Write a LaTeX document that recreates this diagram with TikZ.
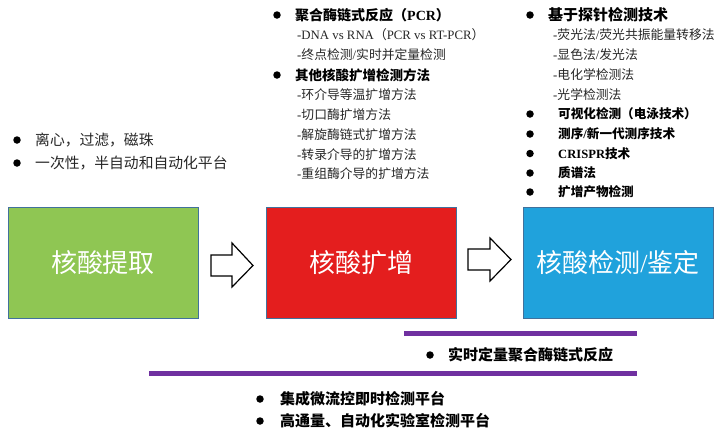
\documentclass[tikz,border=0pt]{standalone}
\usepackage{fontspec}
\setmainfont{Noto Sans CJK SC}
\newfontfamily\lat{Liberation Serif}
\definecolor{gfill}{HTML}{8FC653}
\definecolor{rfill}{HTML}{E41E1E}
\definecolor{bfill}{HTML}{20A2DC}
\definecolor{boxline}{HTML}{41719C}
\definecolor{barpurple}{HTML}{7030A0}
\definecolor{textgray}{HTML}{262626}
\tikzset{
  box/.style={draw=boxline, line width=0.8pt, minimum width=190pt, minimum height=111pt,
    inner sep=0pt, text=white, font=\fontsize{26}{30}\selectfont},
  txt/.style={anchor=west, inner sep=0pt, text=textgray},
  hd/.style={anchor=west, inner sep=0pt, text=black, font=\bfseries\fontsize{13.5}{15}\selectfont},
  bul/.style={circle, fill=black, inner sep=0pt, minimum size=7.5pt},
  blockarrow/.style={draw=black, line width=1.2pt, fill=white, line join=miter},
  bar/.style={line width=5pt, draw=barpurple},
  fleft/.style={font=\fontsize{14.8}{16}\selectfont},
  fsub/.style={font=\fontsize{12.8}{14}\selectfont},
  frh/.style={font=\bfseries\fontsize{12.6}{14}\selectfont},
  fbig/.style={font=\bfseries\fontsize{15}{17}\selectfont}
}
\begin{document}
\begin{tikzpicture}[x=1pt,y=-1pt]
\useasboundingbox (0,0) rectangle (716,432);

% main boxes
\node[box, fill=gfill] (extract) at (103,262.5) {核酸提取};
\node[box, fill=rfill] (amplify) at (361,262.5) {核酸扩增};
\node[box, fill=bfill] (detect) at (618,262.5) {核酸检测{\lat /}鉴定};

% block arrows
\draw[blockarrow] (211,255) -- (232,255) -- (232,243) -- (253,265.5) -- (232,287) -- (232,276) -- (211,276) -- cycle;
\draw[blockarrow] (468,249) -- (490,249) -- (490,238) -- (511,259.5) -- (490,281) -- (490,270) -- (468,270) -- cycle;

% left bullets
\node[bul] (lb1) at (17,140) {};
\node[txt, fleft] (lt1) at (35,140) {离心，过滤，磁珠};
\node[bul] (lb2) at (17,163) {};
\node[txt, fleft] (lt2) at (35,163) {一次性，半自动和自动化平台};

% middle column
\node[bul] (mb1) at (277,15) {};
\node[hd, font=\bfseries\fontsize{14}{15}\selectfont] (mh1) at (295,15) {聚合酶链式反应（{\lat PCR}）};
\node[txt, fsub] (ms1) at (297,35) {{\lat -DNA vs RNA}（{\lat PCR vs RT-PCR}）};
\node[txt, fsub] (ms2) at (297,54.5) {{\lat -}终点检测{\lat /}实时并定量检测};
\node[bul] (mb2) at (277,75) {};
\node[hd] (mh2) at (295,75) {其他核酸扩增检测方法};
\node[txt, fsub] (ms3) at (297,95) {{\lat -}环介导等温扩增方法};
\node[txt, fsub] (ms4) at (297,115) {{\lat -}切口酶扩增方法};
\node[txt, fsub] (ms5) at (297,135) {{\lat -}解旋酶链式扩增方法};
\node[txt, fsub] (ms6) at (297,154.5) {{\lat -}转录介导的扩增方法};
\node[txt, fsub] (ms7) at (297,174) {{\lat -}重组酶介导的扩增方法};

% right column
\node[bul] (rb1) at (530,15) {};
\node[hd, fbig] (rh1) at (548,15) {基于探针检测技术};
\node[txt, fsub] (rs1) at (553,34.5) {{\lat -}荧光法{\lat /}荧光共振能量转移法};
\node[txt, fsub] (rs2) at (553,54.5) {{\lat -}显色法{\lat /}发光法};
\node[txt, fsub] (rs3) at (553,74.5) {{\lat -}电化学检测法};
\node[txt, fsub] (rs4) at (553,94.5) {{\lat -}光学检测法};
\node[bul] (rb2) at (530,114) {};
\node[hd, frh] (rh2) at (558,114) {可视化检测（电泳技术）};
\node[bul] (rb3) at (530,134) {};
\node[hd, frh] (rh3) at (558,134) {测序{\lat /}新一代测序技术};
\node[bul] (rb4) at (530,153.5) {};
\node[hd, frh] (rh4) at (558,153.5) {{\lat CRISPR}技术};
\node[bul] (rb5) at (530,173) {};
\node[hd, frh] (rh5) at (558,173) {质谱法};
\node[bul] (rb6) at (530,192) {};
\node[hd, frh] (rh6) at (558,192) {扩增产物检测};

% purple bars
\coordinate (bar1s) at (404,333);
\coordinate (bar1e) at (637,333);
\coordinate (bar2s) at (149,373);
\coordinate (bar2e) at (637,373);
\draw[bar] (bar1s) -- (bar1e);
\draw[bar] (bar2s) -- (bar2e);

% bottom bullets
\node[bul] (bb1) at (430,355) {};
\node[hd, fbig] (bt1) at (448,355) {实时定量聚合酶链式反应};
\node[bul] (bb2) at (260,399) {};
\node[hd, fbig] (bt2) at (280,399) {集成微流控即时检测平台};
\node[bul] (bb3) at (260,421) {};
\node[hd, fbig] (bt3) at (280,421) {高通量、自动化实验室检测平台};
\end{tikzpicture}
\end{document}
